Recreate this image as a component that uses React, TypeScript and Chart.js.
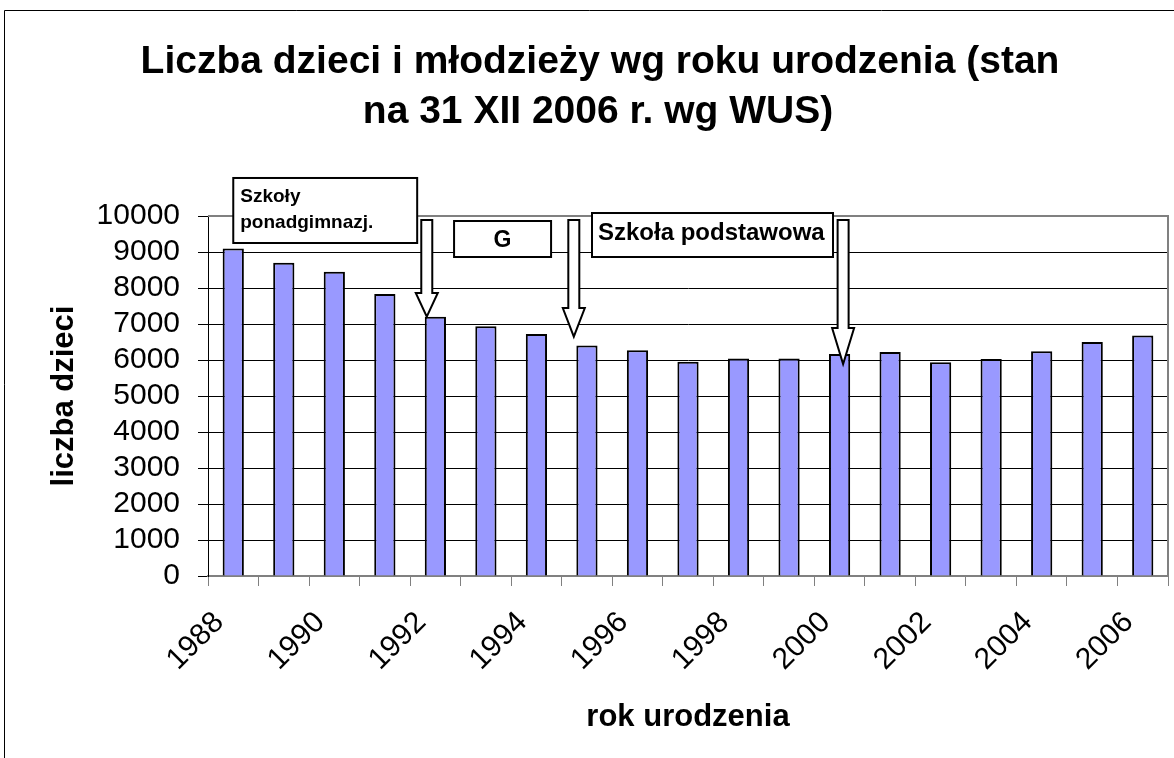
import React, { useEffect, useRef } from 'react';
import { Chart, registerables } from 'chart.js';

Chart.register(...registerables);

// ---- data ----
const years = ['1988', '1989', '1990', '1991', '1992', '1993', '1994', '1995', '1996', '1997', '1998', '1999', '2000', '2001', '2002', '2003', '2004', '2005', '2006'];
const children = [9100, 8700, 8450, 7830, 7200, 6940, 6720, 6400, 6270, 5950, 6040, 6040, 6170, 6220, 5940, 6030, 6240, 6500, 6680];
const yMin = 0;
const yMax = 10000;
const yStep = 1000;
const titleLines = ['Liczba dzieci i młodzieży wg roku urodzenia (stan', 'na 31 XII 2006 r. wg WUS)'];
const yAxisTitle = 'liczba dzieci';
const xAxisTitle = 'rok urodzenia';

// ---- annotations (in category-index / value coordinates) ----
const boxTexts = [['Szkoły', 'ponadgimnazj.'], ['G'], ['Szkoła podstawowa']];
const boxFromIdx = [0.0, 4.37, 7.1];
const boxToIdx = [3.64, 6.29, 11.87];
const boxTopVal = [11056, 9861, 10083];
const boxBottomVal = [9250, 8861, 8861];
const arrowIdx = [3.83, 6.74, 12.07];
const arrowTopVal = [9889, 9889, 9889];
const arrowHeadVal = [7861, 7444, 6889];
const arrowTipVal = [7203, 6647, 5889];

const FONT = '"Liberation Sans", Arial, sans-serif';

const decorPlugin = {
  id: 'decor',
  beforeDraw(chart: any) {
    const ctx = chart.ctx;
    ctx.save();
    ctx.fillStyle = '#ffffff';
    ctx.fillRect(0, 0, chart.width, chart.height);
    ctx.restore();
  },
  afterDatasetsDraw(chart: any) {
    const ctx = chart.ctx;
    const xs = chart.scales.x;
    const ys = chart.scales.y;
    const area = chart.chartArea;
    ctx.save();
    // plot frame (top & right, gray)
    ctx.strokeStyle = '#808080';
    ctx.lineWidth = 2;
    ctx.beginPath();
    ctx.moveTo(area.left, area.top);
    ctx.lineTo(area.right, area.top);
    ctx.lineTo(area.right, area.bottom);
    ctx.stroke();

    // arrows
    ctx.lineWidth = 2;
    ctx.strokeStyle = '#000';
    ctx.fillStyle = '#fff';
    for (let i = 0; i < arrowIdx.length; i++) {
      const cx = xs.getPixelForValue(arrowIdx[i]);
      const top = ys.getPixelForValue(arrowTopVal[i]);
      const head = ys.getPixelForValue(arrowHeadVal[i]);
      const tip = ys.getPixelForValue(arrowTipVal[i]);
      const sw = 5.5;
      const hw = 11;
      ctx.beginPath();
      ctx.moveTo(cx - sw, top);
      ctx.lineTo(cx - sw, head);
      ctx.lineTo(cx - hw, head);
      ctx.lineTo(cx, tip);
      ctx.lineTo(cx + hw, head);
      ctx.lineTo(cx + sw, head);
      ctx.lineTo(cx + sw, top);
      ctx.closePath();
      ctx.fill();
      ctx.stroke();
    }

    // boxes
    for (let i = 0; i < boxTexts.length; i++) {
      const x0 = xs.getPixelForValue(boxFromIdx[i]);
      const x1 = xs.getPixelForValue(boxToIdx[i]);
      const y0 = ys.getPixelForValue(boxTopVal[i]);
      const y1 = ys.getPixelForValue(boxBottomVal[i]);
      ctx.fillStyle = '#fff';
      ctx.fillRect(x0, y0, x1 - x0, y1 - y0);
      ctx.strokeStyle = '#000';
      ctx.lineWidth = 2;
      ctx.strokeRect(x0, y0, x1 - x0, y1 - y0);
      ctx.fillStyle = '#000';
      ctx.textBaseline = 'alphabetic';
      const lines = boxTexts[i];
      if (lines.length === 2) {
        ctx.font = `bold 19px ${FONT}`;
        ctx.textAlign = 'left';
        ctx.fillText(lines[0], x0 + 7, y0 + 24);
        ctx.fillText(lines[1], x0 + 7, y0 + 50);
      } else if (lines[0].length === 1) {
        ctx.font = `bold 23px ${FONT}`;
        ctx.textAlign = 'center';
        ctx.fillText(lines[0], (x0 + x1) / 2, (y0 + y1) / 2 + 8);
      } else {
        ctx.font = `bold 24px ${FONT}`;
        ctx.textAlign = 'left';
        ctx.fillText(lines[0], x0 + 6, y0 + 27);
      }
    }
    ctx.restore();
  },
  afterDraw(chart: any) {
    const ctx = chart.ctx;
    const area = chart.chartArea;
    ctx.save();
    // outer frame
    ctx.strokeStyle = '#000';
    ctx.lineWidth = 1;
    ctx.beginPath();
    ctx.moveTo(4.5, chart.height);
    ctx.lineTo(4.5, 10.5);
    ctx.lineTo(chart.width, 10.5);
    ctx.stroke();

    ctx.fillStyle = '#000';
    // title
    ctx.font = `bold 39px ${FONT}`;
    ctx.textAlign = 'center';
    ctx.textBaseline = 'alphabetic';
    ctx.fillText(titleLines[0], 600, 73);
    ctx.fillText(titleLines[1], 598, 123);

    // x axis title
    ctx.font = `bold 31px ${FONT}`;
    ctx.fillText(xAxisTitle, (area.left + area.right) / 2, 726);

    // y axis title
    ctx.translate(73, (area.top + area.bottom) / 2);
    ctx.rotate(-Math.PI / 2);
    ctx.textAlign = 'center';
    ctx.fillText(yAxisTitle, 0, 0);
    ctx.restore();
  },
};

export default function App() {
  const canvasRef = useRef<HTMLCanvasElement | null>(null);

  useEffect(() => {
    document.body.style.margin = '0';
    const canvas = canvasRef.current;
    if (!canvas) return;
    const chart = new Chart(canvas, {
      type: 'bar',
      data: {
        labels: years,
        datasets: [
          {
            data: children,
            backgroundColor: '#9999FF',
            borderColor: '#000000',
            borderWidth: 2,
            barPercentage: 0.42,
            categoryPercentage: 1,
          },
        ],
      },
      options: {
        responsive: false,
        animation: false,
        devicePixelRatio: 1,
        layout: { padding: { top: 216, right: 6, left: 0, bottom: 0 } },
        plugins: {
          legend: { display: false },
          title: { display: false },
          tooltip: { enabled: false },
        },
        scales: {
          x: {
            type: 'category',
            offset: true,
            grid: {
              display: true,
              drawOnChartArea: false,
              offset: true,
              color: '#808080',
              tickLength: 10,
              lineWidth: 1,
            },
            border: { color: '#808080', width: 2 },
            ticks: {
              autoSkip: false,
              maxRotation: 45,
              minRotation: 45,
              color: '#000',
              padding: 19,
              labelOffset: -14,
              font: { family: FONT, size: 30 },
              callback: (_v: any, i: number) => (i % 2 === 0 ? years[i] : ''),
            },
            afterFit: (s: any) => {
              s.height = 182;
              s.paddingLeft = 0;
              s.paddingRight = 0;
            },
          },
          y: {
            min: yMin,
            max: yMax,
            ticks: {
              stepSize: yStep,
              autoSkip: false,
              color: '#000',
              padding: 18,
              font: { family: FONT, size: 30 },
              callback: (v: any) => String(v),
            },
            grid: {
              color: (c: any) => (c.tick && c.tick.value === yMax ? '#808080' : '#000000'),
              tickColor: '#000',
              tickLength: 10,
              lineWidth: 1,
            },
            border: { color: '#000', width: 1 },
            afterFit: (s: any) => {
              s.width = 208;
            },
          },
        },
      },
      plugins: [decorPlugin],
    });
    return () => chart.destroy();
  }, []);

  return (
    <div style={{ width: 1174, height: 758 }}>
      <canvas ref={canvasRef} width={1174} height={758} style={{ display: 'block' }} />
    </div>
  );
}
